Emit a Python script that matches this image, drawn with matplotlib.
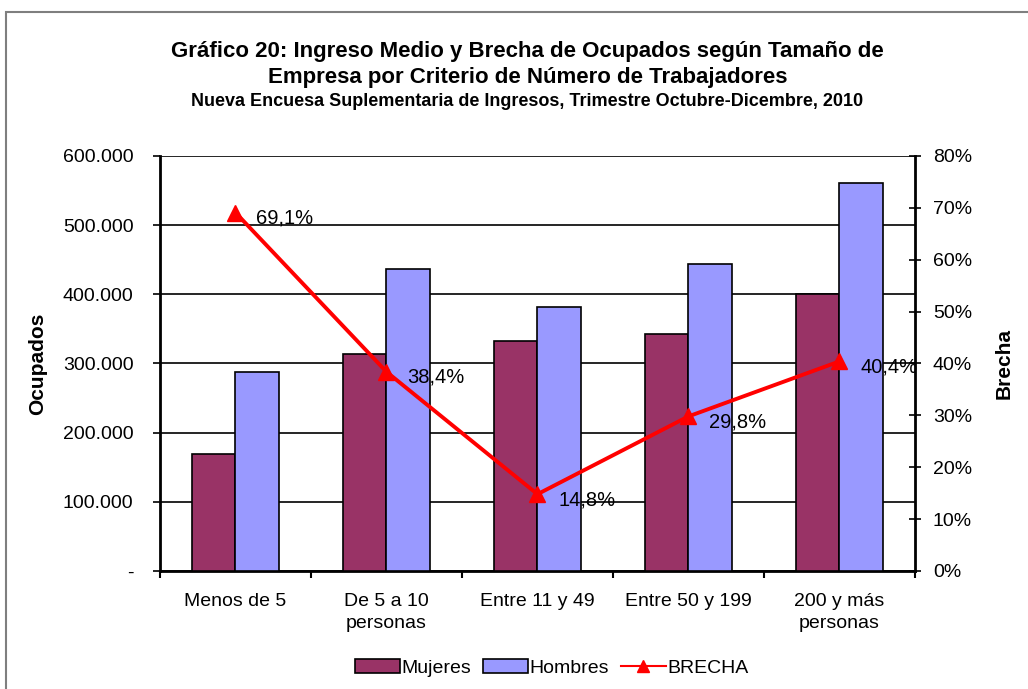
import matplotlib.pyplot as plt
import numpy as np
from matplotlib.lines import Line2D
from matplotlib.patches import Patch, Rectangle
from matplotlib.ticker import FuncFormatter, MultipleLocator

plt.rcParams["font.family"] = ["Liberation Sans", "DejaVu Sans"]

categories = ["Menos de 5", "De 5 a 10\npersonas", "Entre 11 y 49",
              "Entre 50 y 199", "200 y más\npersonas"]
mujeres = [169000, 314000, 333000, 343000, 400000]
hombres = [288000, 437000, 382000, 444000, 561000]
brecha = [69.1, 38.4, 14.8, 29.8, 40.4]

c_muj = "#993366"
c_hom = "#9999FF"
c_line = "#FF0000"

fig = plt.figure(figsize=(10.28, 6.89), dpi=100)
fig.patches.append(Rectangle((0.006, -0.05), 1.2, 1.033, transform=fig.transFigure,
                             fill=False, edgecolor="#7f7f7f", linewidth=1.5))
ax = fig.add_axes([0.1556, 0.1713, 0.7344, 0.6023])

x = np.arange(len(categories))
w = 0.29
ax.bar(x - w / 2, mujeres, w, color=c_muj, edgecolor="black", linewidth=1.2, zorder=3)
ax.bar(x + w / 2, hombres, w, color=c_hom, edgecolor="black", linewidth=1.2, zorder=3)

ax.set_xlim(-0.5, len(categories) - 0.5)
ax.set_ylim(0, 600000)
ax.yaxis.set_major_locator(MultipleLocator(100000))
ax.yaxis.set_major_formatter(FuncFormatter(
    lambda v, p: "-" if v == 0 else f"{int(v):,}".replace(",", ".")))
ax.grid(axis="y", color="black", linewidth=1.2, zorder=0)
ax.set_axisbelow(True)
ax.set_xticks(x)
ax.set_xticklabels(categories, fontsize=14, linespacing=1.4)
ax.set_xticks(np.arange(-0.5, len(categories)), minor=True)
ax.tick_params(axis="x", which="major", length=0, pad=16)
ax.tick_params(axis="x", which="minor", length=5, width=1.5, direction="out")
ax.tick_params(axis="y", length=5, width=1.2, direction="out", pad=14, labelsize=14)
for s in ["left", "bottom"]:
    ax.spines[s].set_linewidth(2)
ax.spines["top"].set_visible(False)
ax.spines["right"].set_visible(False)
ax.set_ylabel("Ocupados", fontsize=15, fontweight="bold", labelpad=11)

ax2 = ax.twinx()
ax2.plot(x, brecha, color=c_line, linewidth=2.8, marker="^", markersize=12, zorder=5)
for xi, yi in zip(x, brecha):
    ax2.annotate(f"{yi:.1f}%".replace(".", ","), (xi, yi), xytext=(15, -4),
                 textcoords="offset points", fontsize=14.5, va="center", ha="left")
ax2.set_ylim(0, 80)
ax2.yaxis.set_major_locator(MultipleLocator(10))
ax2.yaxis.set_major_formatter(FuncFormatter(lambda v, p: f"{int(v)}%"))
ax2.tick_params(axis="y", length=8, width=1.2, direction="inout", pad=9, labelsize=14)
ax2.spines["right"].set_linewidth(2)
for s in ["top", "left", "bottom"]:
    ax2.spines[s].set_visible(False)
ax2.set_ylabel("Brecha", fontsize=15, fontweight="bold", labelpad=16)

fig.text(0.513, 0.925, "Gráfico 20: Ingreso Medio y Brecha de Ocupados según Tamaño de",
         ha="center", va="center", fontsize=16, fontweight="bold")
fig.text(0.513, 0.887, "Empresa por Criterio de Número de Trabajadores",
         ha="center", va="center", fontsize=16, fontweight="bold")
fig.text(0.513, 0.853, "Nueva Encuesa Suplementaria de Ingresos, Trimestre Octubre-Dicembre, 2010",
         ha="center", va="center", fontsize=13, fontweight="bold")

handles = [
    Patch(facecolor=c_muj, edgecolor="black", linewidth=1.2, label="Mujeres"),
    Patch(facecolor=c_hom, edgecolor="black", linewidth=1.2, label="Hombres"),
    Line2D([], [], color=c_line, linewidth=1.5, marker="^", markersize=9, label="BRECHA"),
]
fig.legend(handles=handles, loc="center", bbox_to_anchor=(0.537, 0.031), ncol=3,
           frameon=False, fontsize=14, handlelength=2.3, handleheight=0.75,
           handletextpad=0.1, columnspacing=0.6)

fig.savefig("out.png", dpi=100)
